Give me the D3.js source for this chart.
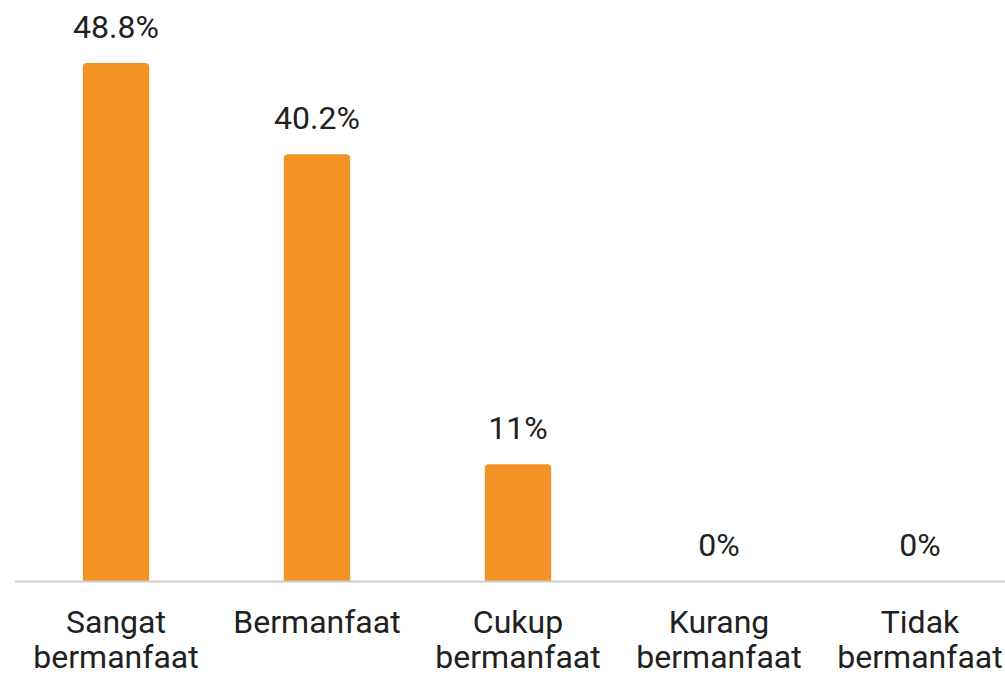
<!DOCTYPE html>
<html>
<head>
<meta charset="utf-8">
<script src="https://cdn.jsdelivr.net/npm/d3@7"></script>
<style>
html,body{margin:0;padding:0;background:#fff;}
svg{display:block;}
</style>
</head>
<body>
<svg id="chart" width="1005" height="674"></svg>
<script>
const categories = [["Sangat","bermanfaat"],["Bermanfaat"],["Cukup","bermanfaat"],["Kurang","bermanfaat"],["Tidak","bermanfaat"]];
const values = [48.8, 40.2, 11, 0, 0];
const valueLabels = ["48.8%", "40.2%", "11%", "0%", "0%"];

const svg = d3.select("#chart");
const baseY = 581;
const keys = categories.map(c => c.join(" "));

const x = d3.scaleBand().domain(keys).range([15.5, 1020.5]).paddingInner(0.67).paddingOuter(0.335);
const y = d3.scaleLinear().domain([0, 48.8]).range([baseY, 63]);

const font = "Roboto, 'Noto Sans', sans-serif";

// bars with rounded top corners
const r = 4;
svg.append("g").selectAll("path").data(values).join("path")
  .attr("fill", "#F39325")
  .attr("d", (d, i) => {
    const x0 = x(keys[i]), w = x.bandwidth(), y0 = y(d), h = baseY - y0;
    if (h <= 0) return "";
    const rr = Math.min(r, h);
    return `M${x0},${baseY}V${y0 + rr}Q${x0},${y0} ${x0 + rr},${y0}H${x0 + w - rr}Q${x0 + w},${y0} ${x0 + w},${y0 + rr}V${baseY}Z`;
  });

// baseline
svg.append("line")
  .attr("x1", 15).attr("x2", 1005)
  .attr("y1", baseY + 0.5).attr("y2", baseY + 0.5)
  .attr("stroke", "#cccccc").attr("stroke-width", 2);

// value labels
svg.append("g").selectAll("text").data(values).join("text")
  .attr("x", (d, i) => x(keys[i]) + x.bandwidth() / 2)
  .attr("y", d => y(d) - 25)
  .attr("text-anchor", "middle")
  .attr("font-family", font)
  .attr("font-size", 32)
  .attr("fill", "#212121")
  .text((d, i) => valueLabels[i]);

// category labels
const cg = svg.append("g");
categories.forEach((lines, i) => {
  const t = cg.append("text")
    .attr("x", x(keys[i]) + x.bandwidth() / 2)
    .attr("y", 633)
    .attr("text-anchor", "middle")
    .attr("font-family", font)
    .attr("font-size", 32)
    .attr("fill", "#212121");
  lines.forEach((ln, j) => {
    t.append("tspan").attr("x", x(keys[i]) + x.bandwidth() / 2).attr("dy", j === 0 ? 0 : 35).text(ln);
  });
});
</script>
</body>
</html>
